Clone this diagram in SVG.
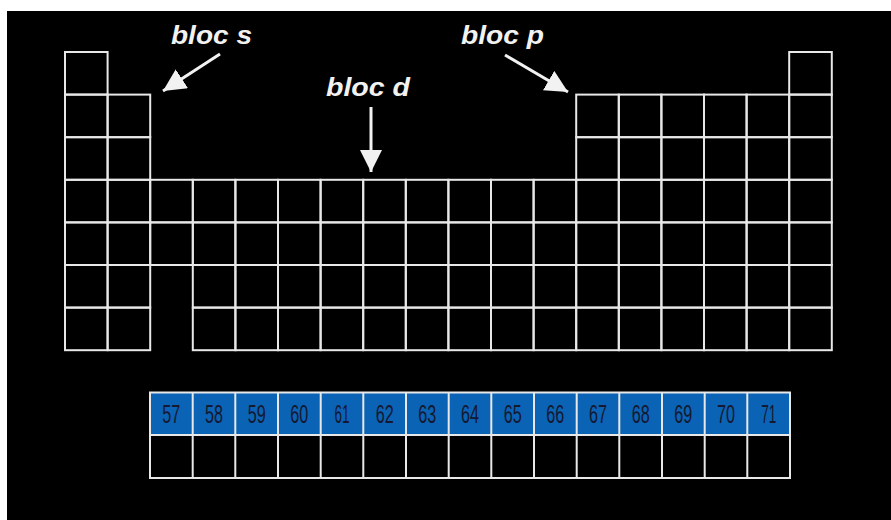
<svg xmlns="http://www.w3.org/2000/svg" xmlns:xlink="http://www.w3.org/1999/xlink" width="891" height="520" viewBox="0 0 891 520">
<style>
.cell{fill:none;stroke:#e8e8e8;stroke-width:2}
.lan{fill:#0b63b5;stroke:#e8e8e8;stroke-width:2}
.lbl{font-family:"Liberation Sans",Arial,sans-serif;font-weight:bold;font-style:italic;font-size:25px;fill:#f2f2f2}
.num{font-family:"Liberation Sans",Arial,sans-serif;font-size:26px;fill:#141830;text-anchor:middle}
.arr{stroke:#f2f2f2;stroke-width:3;fill:none}
</style>
<defs>
<rect id="c" width="42.6" height="42.6" class="cell"/>
<marker id="ah" viewBox="0 0 10 10" refX="10" refY="5" markerWidth="7.5" markerHeight="7.5" markerUnits="strokeWidth" orient="auto"><path d="M0,0L10,5L0,10z" fill="#f2f2f2"/></marker>
</defs>
<rect x="0" y="0" width="891" height="520" fill="#ffffff"/>
<rect x="7" y="11" width="884" height="509" fill="#000000"/>

<g id="bloc-s-cells">
<use xlink:href="#c" x="65" y="52"/>
<use xlink:href="#c" x="65" y="94.6"/><use xlink:href="#c" x="107.6" y="94.6"/>
<use xlink:href="#c" x="65" y="137.2"/><use xlink:href="#c" x="107.6" y="137.2"/>
<use xlink:href="#c" x="65" y="179.8"/><use xlink:href="#c" x="107.6" y="179.8"/>
<use xlink:href="#c" x="65" y="222.4"/><use xlink:href="#c" x="107.6" y="222.4"/>
<use xlink:href="#c" x="65" y="265"/><use xlink:href="#c" x="107.6" y="265"/>
<use xlink:href="#c" x="65" y="307.6"/><use xlink:href="#c" x="107.6" y="307.6"/>
</g>

<g id="bloc-d-cells">
<use xlink:href="#c" x="150.2" y="179.8"/><use xlink:href="#c" x="150.2" y="222.4"/>
<use xlink:href="#c" x="192.8" y="179.8"/><use xlink:href="#c" x="235.4" y="179.8"/><use xlink:href="#c" x="278" y="179.8"/><use xlink:href="#c" x="320.6" y="179.8"/><use xlink:href="#c" x="363.2" y="179.8"/><use xlink:href="#c" x="405.8" y="179.8"/><use xlink:href="#c" x="448.4" y="179.8"/><use xlink:href="#c" x="491" y="179.8"/><use xlink:href="#c" x="533.6" y="179.8"/>
<use xlink:href="#c" x="192.8" y="222.4"/><use xlink:href="#c" x="235.4" y="222.4"/><use xlink:href="#c" x="278" y="222.4"/><use xlink:href="#c" x="320.6" y="222.4"/><use xlink:href="#c" x="363.2" y="222.4"/><use xlink:href="#c" x="405.8" y="222.4"/><use xlink:href="#c" x="448.4" y="222.4"/><use xlink:href="#c" x="491" y="222.4"/><use xlink:href="#c" x="533.6" y="222.4"/>
<use xlink:href="#c" x="192.8" y="265"/><use xlink:href="#c" x="235.4" y="265"/><use xlink:href="#c" x="278" y="265"/><use xlink:href="#c" x="320.6" y="265"/><use xlink:href="#c" x="363.2" y="265"/><use xlink:href="#c" x="405.8" y="265"/><use xlink:href="#c" x="448.4" y="265"/><use xlink:href="#c" x="491" y="265"/><use xlink:href="#c" x="533.6" y="265"/>
<use xlink:href="#c" x="192.8" y="307.6"/><use xlink:href="#c" x="235.4" y="307.6"/><use xlink:href="#c" x="278" y="307.6"/><use xlink:href="#c" x="320.6" y="307.6"/><use xlink:href="#c" x="363.2" y="307.6"/><use xlink:href="#c" x="405.8" y="307.6"/><use xlink:href="#c" x="448.4" y="307.6"/><use xlink:href="#c" x="491" y="307.6"/><use xlink:href="#c" x="533.6" y="307.6"/>
</g>

<g id="bloc-p-cells">
<use xlink:href="#c" x="789.2" y="52"/>
<use xlink:href="#c" x="576.2" y="94.6"/><use xlink:href="#c" x="618.8" y="94.6"/><use xlink:href="#c" x="661.4" y="94.6"/><use xlink:href="#c" x="704" y="94.6"/><use xlink:href="#c" x="746.6" y="94.6"/><use xlink:href="#c" x="789.2" y="94.6"/>
<use xlink:href="#c" x="576.2" y="137.2"/><use xlink:href="#c" x="618.8" y="137.2"/><use xlink:href="#c" x="661.4" y="137.2"/><use xlink:href="#c" x="704" y="137.2"/><use xlink:href="#c" x="746.6" y="137.2"/><use xlink:href="#c" x="789.2" y="137.2"/>
<use xlink:href="#c" x="576.2" y="179.8"/><use xlink:href="#c" x="618.8" y="179.8"/><use xlink:href="#c" x="661.4" y="179.8"/><use xlink:href="#c" x="704" y="179.8"/><use xlink:href="#c" x="746.6" y="179.8"/><use xlink:href="#c" x="789.2" y="179.8"/>
<use xlink:href="#c" x="576.2" y="222.4"/><use xlink:href="#c" x="618.8" y="222.4"/><use xlink:href="#c" x="661.4" y="222.4"/><use xlink:href="#c" x="704" y="222.4"/><use xlink:href="#c" x="746.6" y="222.4"/><use xlink:href="#c" x="789.2" y="222.4"/>
<use xlink:href="#c" x="576.2" y="265"/><use xlink:href="#c" x="618.8" y="265"/><use xlink:href="#c" x="661.4" y="265"/><use xlink:href="#c" x="704" y="265"/><use xlink:href="#c" x="746.6" y="265"/><use xlink:href="#c" x="789.2" y="265"/>
<use xlink:href="#c" x="576.2" y="307.6"/><use xlink:href="#c" x="618.8" y="307.6"/><use xlink:href="#c" x="661.4" y="307.6"/><use xlink:href="#c" x="704" y="307.6"/><use xlink:href="#c" x="746.6" y="307.6"/><use xlink:href="#c" x="789.2" y="307.6"/>
</g>

<g id="lanthanides">
<rect class="lan" x="150" y="392.5" width="640" height="42.5"/>
<path class="cell" d="M192.7,392.5V478M235.3,392.5V478M278,392.5V478M320.7,392.5V478M363.3,392.5V478M406,392.5V478M448.7,392.5V478M491.3,392.5V478M534,392.5V478M576.7,392.5V478M619.3,392.5V478M662,392.5V478M704.7,392.5V478M747.3,392.5V478"/>
<rect class="cell" x="150" y="435" width="640" height="43"/>
<g class="num">
<text x="171.3" y="423" textLength="18" lengthAdjust="spacingAndGlyphs">57</text>
<text x="214" y="423" textLength="18" lengthAdjust="spacingAndGlyphs">58</text>
<text x="256.7" y="423" textLength="18" lengthAdjust="spacingAndGlyphs">59</text>
<text x="299.3" y="423" textLength="18" lengthAdjust="spacingAndGlyphs">60</text>
<text x="342" y="423" textLength="15" lengthAdjust="spacingAndGlyphs">61</text>
<text x="384.7" y="423" textLength="18" lengthAdjust="spacingAndGlyphs">62</text>
<text x="427.3" y="423" textLength="18" lengthAdjust="spacingAndGlyphs">63</text>
<text x="470" y="423" textLength="18" lengthAdjust="spacingAndGlyphs">64</text>
<text x="512.7" y="423" textLength="18" lengthAdjust="spacingAndGlyphs">65</text>
<text x="555.3" y="423" textLength="18" lengthAdjust="spacingAndGlyphs">66</text>
<text x="598" y="423" textLength="18" lengthAdjust="spacingAndGlyphs">67</text>
<text x="640.7" y="423" textLength="18" lengthAdjust="spacingAndGlyphs">68</text>
<text x="683.3" y="423" textLength="18" lengthAdjust="spacingAndGlyphs">69</text>
<text x="726" y="423" textLength="18" lengthAdjust="spacingAndGlyphs">70</text>
<text x="768.7" y="423" textLength="15" lengthAdjust="spacingAndGlyphs">71</text>
</g>
</g>

<g id="label-s"><text class="lbl" x="171" y="44" textLength="81" lengthAdjust="spacingAndGlyphs">bloc s</text></g>
<g id="label-d"><text class="lbl" x="326" y="96" textLength="84" lengthAdjust="spacingAndGlyphs">bloc d</text></g>
<g id="label-p"><text class="lbl" x="461" y="44" textLength="83" lengthAdjust="spacingAndGlyphs">bloc p</text></g>

<g id="connectors">
<line class="arr" x1="220" y1="54" x2="163" y2="91" marker-end="url(#ah)"/>
<line class="arr" x1="371" y1="107" x2="371" y2="172" marker-end="url(#ah)"/>
<line class="arr" x1="505" y1="55" x2="568" y2="92" marker-end="url(#ah)"/>
</g>
</svg>
